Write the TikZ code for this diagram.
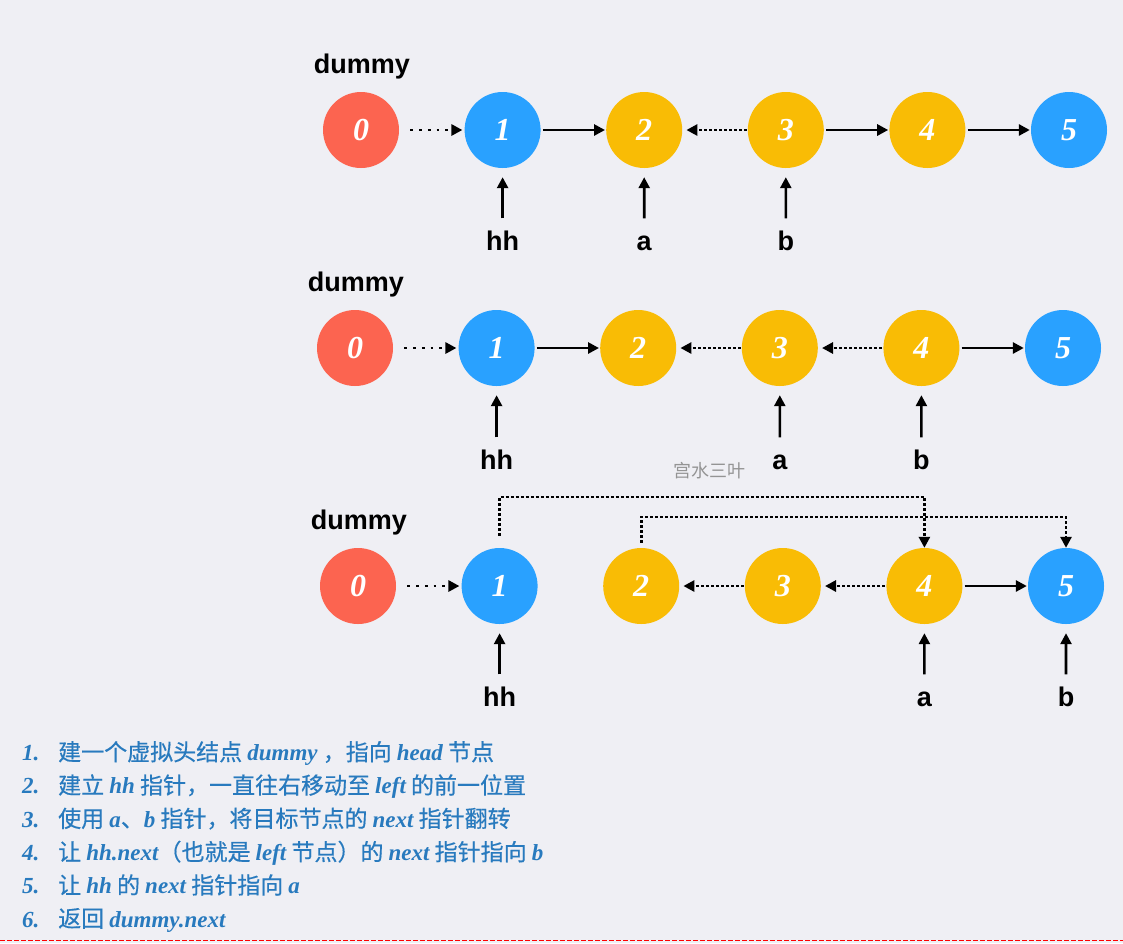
\documentclass[tikz,border=0pt]{standalone}
\usepackage{fontspec}
\setmainfont{Liberation Serif}
\newfontfamily\cjk[FakeBold=0.5]{Noto Sans CJK SC}
\newfontfamily\wmfont{Noto Sans CJK SC}
\newfontfamily\lab{Liberation Sans}
\usetikzlibrary{positioning,arrows.meta}
\definecolor{bgcol}{RGB}{239,239,244}
\definecolor{nred}{RGB}{252,100,80}
\definecolor{nblue}{RGB}{41,161,255}
\definecolor{nyel}{RGB}{249,188,5}
\definecolor{txtblue}{RGB}{40,122,190}
\newcommand{\en}[1]{{\rmfamily\bfseries\itshape #1}}

\begin{document}
\begin{tikzpicture}[x=1pt, y=-1pt,
        >={Triangle[length=11pt, width=11pt]},
        ball/.style={circle, minimum size=76pt, inner sep=0pt, text=white,
                     font=\fontsize{32}{32}\selectfont\bfseries\itshape},
        lbl/.style={font=\lab\fontsize{27}{27}\selectfont\bfseries, inner sep=1pt,
                    text height=19pt, text depth=0pt},
        nxt/.style={->, line width=2.8pt, shorten <=2pt, shorten >=1pt},
        rev/.style={->, line width=2.8pt, dash pattern=on 2.8pt off 2.2pt,
                    shorten <=1pt, shorten >=4pt},
        head/.style={->, line width=2.8pt, dash pattern=on 2.8pt off 6pt,
                     shorten <=11pt, shorten >=2pt},
        ptr/.style={->, line width=2.6pt, shorten <=12pt, shorten >=9pt},
        hop/.style={->, line width=2.8pt, dash pattern=on 2.8pt off 2.2pt},
        num/.style={anchor=west, inner sep=0pt, text=txtblue, text height=16pt, text depth=5pt,
                    font=\fontsize{23}{23}\selectfont\bfseries\itshape},
        item/.style={anchor=west, inner sep=0pt, text=txtblue, text height=16pt, text depth=5pt,
                      font=\cjk\fontsize{23}{23}\selectfont},
    ]
    \fill[bgcol] (0,0) rectangle (1123,943);
    \useasboundingbox (0,0) rectangle (1123,943);

    \foreach \r/\y/\xo in {1/130/361, 2/348/355, 3/586/358} {
        \node[lbl] (dummy\r) at (\xo+1, \y-66) {dummy};
        \foreach \i/\c in {0/nred, 1/nblue, 2/nyel, 3/nyel, 4/nyel, 5/nblue}
            \node[ball, fill=\c] (n\r\i) at (\xo+141.6*\i, \y) {\i};
        \draw[head] (n\r0) -- (n\r1);
    }

    \draw[nxt] (n11) -- (n12);
    \draw[rev] (n13) -- (n12);
    \draw[nxt] (n13) -- (n14);
    \draw[nxt] (n14) -- (n15);

    \draw[nxt] (n21) -- (n22);
    \draw[rev] (n23) -- (n22);
    \draw[rev] (n24) -- (n23);
    \draw[nxt] (n24) -- (n25);

    \draw[rev] (n33) -- (n32);
    \draw[rev] (n34) -- (n33);
    \draw[nxt] (n34) -- (n35);

    \foreach \p/\t/\n/\x/\y in {hh1/hh/n11/502.6/241, a1/a/n12/644.2/241, b1/b/n13/785.8/241,
                                hh2/hh/n21/496.6/460, a2/a/n23/779.8/460, b2/b/n24/921.4/460,
                                hh3/hh/n31/499.6/697, a3/a/n34/924.4/697, b3/b/n35/1066/697} {
        \node[lbl] (\p) at (\x,\y) {\t};
        \draw[ptr] (\p) -- (\n);
    }

    \node[text=black!42, font=\wmfont\fontsize{18}{18}\selectfont] (wm) at (709,471) {宫水三叶};

    \coordinate (top1) at (0,497);
    \coordinate (top2) at (0,517);
    \draw[hop, shorten <=12pt] (n31.north) -- (n31.north |- top1) -| (n34.north);
    \draw[hop, shorten <=5pt] (n32.north) -- (n32.north |- top2) -| (n35.north);

    \foreach \k/\t in {
        1/{建一个虚拟头结点 \en{dummy} ，指向 \en{head} 节点},
        2/{建立 \en{hh} 指针，一直往右移动至 \en{left} 的前一位置},
        3/{使用 \en{a}、\en{b} 指针，将目标节点的 \en{next} 指针翻转},
        4/{让 \en{hh.next}（也就是 \en{left} 节点）的 \en{next} 指针指向 \en{b}},
        5/{让 \en{hh} 的 \en{next} 指针指向 \en{a}},
        6/{返回 \en{dummy.next}}} {
        \node[num] (num\k) at (22, 755+33.3*\k-33.3) {\k.};
        \node[item] (item\k) at (58, 755+33.3*\k-33.3) {\t};
    }

    \draw[red, line width=1.2pt, dash pattern=on 5pt off 2pt] (0,940.5) -- (1123,940.5);
\end{tikzpicture}
\end{document}
